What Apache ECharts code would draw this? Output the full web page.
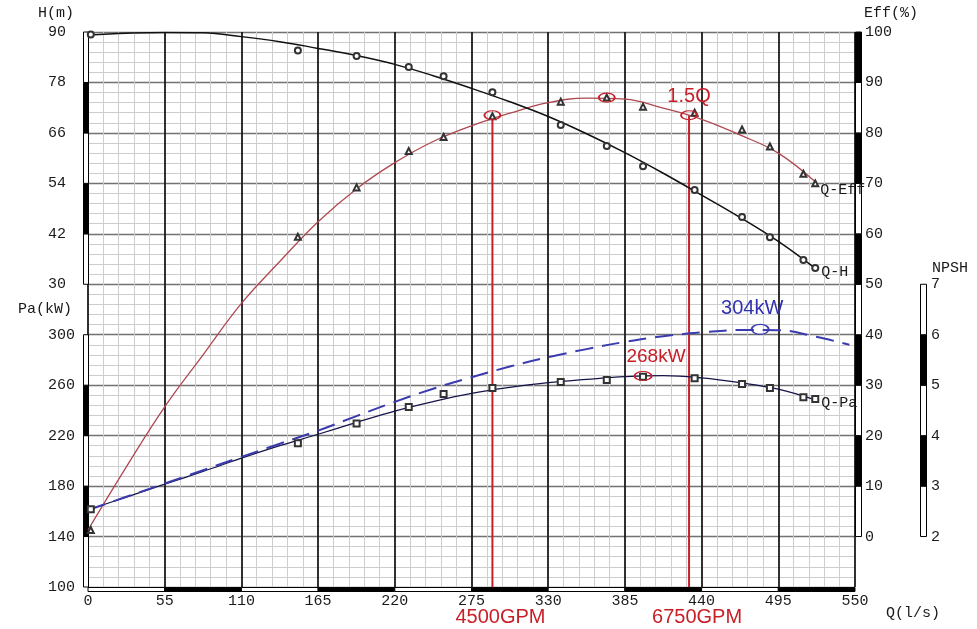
<!DOCTYPE html>
<html>
<head>
<meta charset="utf-8">
<script src="https://cdn.jsdelivr.net/npm/echarts@6.0.0/dist/echarts.min.js"></script>
<style>html,body{margin:0;padding:0;background:#fff}#main{width:977px;height:629px}</style>
</head>
<body>
<div id="main"></div>
<script>
// curve values, Q in l/s
const Q_CURVE = [0, 27.5, 55, 82.5, 110, 137.5, 165, 192.5, 220, 247.5, 275, 302.5, 330, 357.5, 385, 412.5, 440, 467.5, 495, 521.5];
const H_CURVE = [89.3, 89.7, 89.9, 89.8, 88.9, 87.7, 86.1, 84.4, 82.3, 79.6, 76.6, 73.4, 69.9, 65.8, 61.3, 56.4, 51.2, 45.9, 40.2, 33.8];
const EFF_CURVE = [1.3, 13.8, 25.7, 36.0, 46.2, 54.5, 62.4, 68.9, 74.1, 78.3, 81.4, 83.9, 86.0, 86.9, 86.7, 84.9, 82.7, 79.6, 76.0, 70.3];
const PA_CURVE = [161.1, 171.3, 181.6, 191.6, 202.1, 212.0, 221.1, 230.5, 239.5, 247.0, 253.5, 258.2, 262.0, 264.6, 266.8, 267.6, 265.8, 262.0, 256.8, 248.3];
const Q_DASH = [0, 27.5, 55, 82.5, 110, 137.5, 165, 192.5, 220, 247.5, 275, 302.5, 330, 357.5, 385, 412.5, 440, 467.5, 495, 521.5, 546];
const PA_MAX_CURVE = [161.0, 171.5, 182.0, 192.6, 203.2, 213.6, 224.0, 235.5, 246.8, 257.2, 266.3, 274.8, 282.2, 288.6, 294.3, 298.8, 301.8, 303.7, 303.6, 298.5, 292.0];

// measured points
const Q_PTS = [2, 150.5, 192.6, 230, 255, 290, 339, 372, 398, 435, 469, 489, 513, 521.5];
const H_PTS = [89.4, 85.6, 84.3, 81.7, 79.5, 75.7, 67.9, 62.9, 58.1, 52.4, 46.0, 41.2, 35.8, 33.9];
const EFF_PTS = [1.3, 59.4, 69.2, 76.4, 79.2, 83.3, 86.2, 87.0, 85.2, 84.0, 80.7, 77.3, 71.9, 70.0];
const PA_PTS = [161.6, 214, 229.7, 242.7, 253, 257.8, 262.6, 264.2, 266.6, 265.5, 261, 257.8, 250.4, 249];

// highlighted points
const MARK_Q = [290, 372, 431];
const MARK_EFF = [83.5, 87.0, 83.5];
const MARK_TEXT = ['', '', '1.5Q'];
const GPM_Q = [290, 431];
const GPM_TEXT = ['4500GPM', '6750GPM'];
const PA_PEAK = [398, 267.3];
const PA_MAX_PEAK = [482, 304.3];

// tick labels
const X_TICKS = [0, 55, 110, 165, 220, 275, 330, 385, 440, 495, 550];
const H_TICKS = [30, 42, 54, 66, 78, 90];
const PA_TICKS = [100, 140, 180, 220, 260, 300];
const EFF_TICKS = [0, 10, 20, 30, 40, 50, 60, 70, 80, 90, 100];
const NPSH_TICKS = [2, 3, 4, 5, 6, 7];

const MONO = 'Liberation Mono';
const SANS = 'Liberation Sans';
const RED = '#c8202a';
const TXT_RED = '#c81e28';
const BLUE = '#3b3bb0';
const EFF_MIN = -10;

const zip = (xs, ys) => xs.map((x, i) => [x, ys[i]]);
const segs = t => t.slice(0, -1).map((v, i) => [v, t[i + 1], i % 2]);

var chartDom = document.getElementById('main');
var myChart = echarts.init(chartDom);

function yBar(yAxisIndex, ticks, xVal, dx, w) {
  return {
    type: 'custom', yAxisIndex: yAxisIndex, z: 1, silent: true,
    data: segs(ticks),
    renderItem: function (params, api) {
      const a = api.coord([xVal, api.value(1)]);
      const b = api.coord([xVal, api.value(0)]);
      return {
        type: 'rect',
        shape: { x: Math.round(a[0] + dx) + 0.5, y: a[1], width: w, height: b[1] - a[1] },
        style: { fill: api.value(2) ? '#000' : '#fff', stroke: '#000', lineWidth: 1 }
      };
    }
  };
}

const labelFont = { fontFamily: MONO, fontSize: 15, color: '#1a1a1a' };

function sideAxis(pos, min, max, ticks, margin, offset) {
  return {
    type: 'value', position: pos, min: min, max: max, offset: offset || 0,
    axisLine: { show: false }, axisTick: { show: false },
    splitLine: { show: false },
    axisLabel: Object.assign({ customValues: ticks, align: 'left', margin: margin }, labelFont)
  };
}

const effAxis = {
  type: 'value', position: 'right', min: EFF_MIN, max: 100, interval: 10,
  axisLine: { show: false }, axisTick: { show: false },
  axisLabel: Object.assign({ customValues: EFF_TICKS, align: 'left', margin: 10 }, labelFont),
  splitLine: { show: true, lineStyle: { color: '#727272', width: 1.4 } },
  minorTick: { show: false, splitNumber: 5 },
  minorSplitLine: { show: true, lineStyle: { color: '#cdcdcd', width: 1 } }
};

function nameText(x, y, text) {
  return { type: 'text', silent: true, style: { x: x, y: y, text: text, align: 'center', verticalAlign: 'middle', font: '15px "Liberation Mono"', fill: '#1a1a1a' } };
}

// measured points; the last one carries the curve name
function marker(yAxisIndex, ys, symbol, name, dist, off) {
  const data = zip(Q_PTS, ys).map((v, i, arr) => i < arr.length - 1 ? v : {
    value: v,
    label: { show: true, position: 'right', distance: dist, offset: off, formatter: name, fontFamily: MONO, fontSize: 15, color: '#1a1a1a' }
  });
  return {
    type: 'scatter', yAxisIndex: yAxisIndex, data: data, symbol: symbol, symbolSize: 6, z: 4, clip: false,
    itemStyle: { color: '#333', borderWidth: 1, opacity: 1 }
  };
}

function curve(yAxisIndex, xs, ys, color, width) {
  return {
    type: 'line', yAxisIndex: yAxisIndex, data: zip(xs, ys), smooth: 0.4, showSymbol: false, z: 3,
    lineStyle: { color: color, width: width }
  };
}

function ring(yAxisIndex, data, color, size, label) {
  return {
    type: 'scatter', yAxisIndex: yAxisIndex, data: data, symbol: 'circle', symbolSize: size, z: 6,
    itemStyle: { color: 'rgba(0,0,0,0)', borderColor: color, borderWidth: 1.5, opacity: 1 },
    label: Object.assign({ show: true, position: 'top', distance: 5, fontFamily: SANS, fontSize: 20 }, label)
  };
}

let option = {
  backgroundColor: '#fff',
  animation: false,
  grid: { left: 88, right: 122, top: 32, bottom: 42 },
  xAxis: {
    type: 'value', min: 0, max: 550, interval: 55,
    axisLine: { show: false }, axisTick: { show: false },
    axisLabel: Object.assign({ margin: 7 }, labelFont),
    splitLine: { show: true, lineStyle: { color: '#1a1a1a', width: 1.8 } },
    minorTick: { show: false, splitNumber: 5 },
    minorSplitLine: { show: true, lineStyle: { color: '#cdcdcd', width: 1 } }
  },
  yAxis: [
    effAxis,
    sideAxis('left', -42, 90, H_TICKS, 40),
    sideAxis('left', 100, 540, PA_TICKS, 40),
    sideAxis('right', 1, 12, NPSH_TICKS, 11, 65)
  ],
  graphic: [
    nameText(56, 13, 'H(m)'),
    nameText(45, 309, 'Pa(kW)'),
    nameText(891, 13, 'Eff(%)'),
    nameText(950, 268, 'NPSH'),
    nameText(913, 613, 'Q(l/s)')
  ],
  series: [
    yBar(1, H_TICKS, 0, -5, 5),
    yBar(2, PA_TICKS, 0, -5, 5),
    yBar(0, EFF_TICKS, 550, 0, 6),
    yBar(3, NPSH_TICKS, 550, 65, 6),
    {
      type: 'custom', yAxisIndex: 0, z: 1, silent: true,
      data: segs(X_TICKS),
      renderItem: function (params, api) {
        const a = api.coord([api.value(0), EFF_MIN]);
        const b = api.coord([api.value(1), EFF_MIN]);
        return {
          type: 'rect',
          shape: { x: a[0], y: Math.round(a[1]) + 0.5, width: b[0] - a[0], height: 4 },
          style: { fill: api.value(2) ? '#000' : '#fff', stroke: '#000', lineWidth: 1 }
        };
      }
    },
    // red vertical lines at 4500 / 6750 GPM
    ...GPM_Q.map(q => ({
      type: 'line', yAxisIndex: 0, showSymbol: false, z: 3,
      data: [[q, MARK_EFF[MARK_Q.indexOf(q)]], [q, EFF_MIN]],
      lineStyle: { color: RED, width: 2 }
    })),
    curve(0, Q_CURVE, EFF_CURVE, '#b04850', 1.3),
    curve(1, Q_CURVE, H_CURVE, '#111', 1.5),
    curve(2, Q_CURVE, PA_CURVE, '#15154a', 1.3),
    {
      type: 'line', yAxisIndex: 2, data: zip(Q_DASH, PA_MAX_CURVE), smooth: 0.4, showSymbol: false, z: 3,
      lineStyle: { color: BLUE, width: 2, type: [18, 9] }
    },
    marker(1, H_PTS, 'emptyCircle', 'Q-H', 2, [0, 4]),
    marker(0, EFF_PTS, 'emptyTriangle', 'Q-Eff', 1, [0, 7]),
    marker(2, PA_PTS, 'emptyRect', 'Q-Pa', 2, [0, 4]),
    ring(0, zip(MARK_Q, MARK_EFF), RED, [16, 9], { distance: 4, formatter: p => MARK_TEXT[p.dataIndex], color: TXT_RED }),
    ring(2, [PA_PEAK], RED, [17, 9], { offset: [13, 0], formatter: '268kW', color: TXT_RED, fontSize: 19 }),
    ring(2, [PA_MAX_PEAK], BLUE, [17, 10], { offset: [-8, 0], formatter: '304kW', color: '#3030b0' }),
    {
      type: 'scatter', yAxisIndex: 0, clip: false, data: zip(GPM_Q, GPM_Q.map(() => EFF_MIN)),
      symbol: 'circle', symbolSize: 1, itemStyle: { color: 'rgba(0,0,0,0)', opacity: 1 }, z: 6,
      label: { show: true, position: 'bottom', distance: 20, offset: [8, 0], formatter: p => GPM_TEXT[p.dataIndex], color: TXT_RED, fontFamily: SANS, fontSize: 20 }
    }
  ]
};
option && myChart.setOption(option);
</script>
</body>
</html>
